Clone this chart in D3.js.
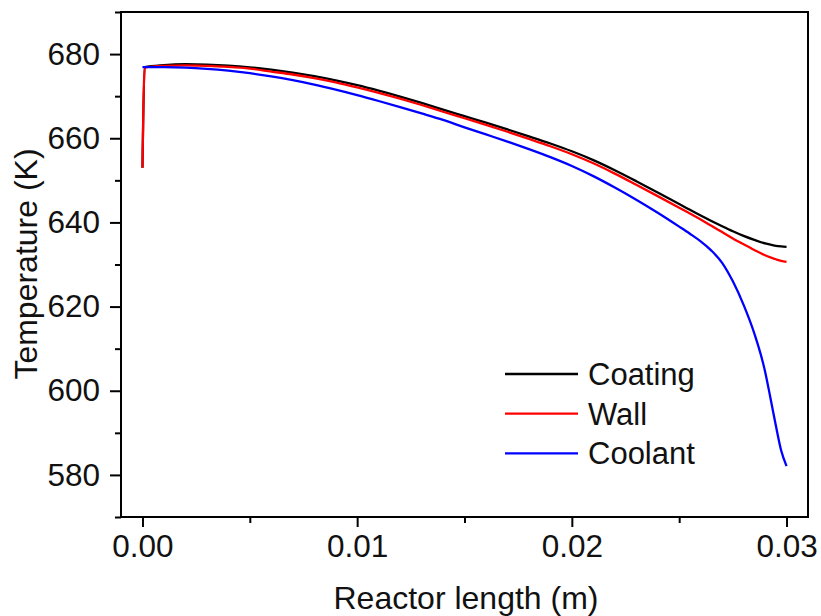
<!DOCTYPE html>
<html>
<head>
<meta charset="utf-8">
<script src="https://cdn.jsdelivr.net/npm/d3@7/dist/d3.min.js"></script>
<style>
  html, body { margin: 0; padding: 0; background: #fff; }
  svg { display: block; font-family: "Liberation Sans", Arial, sans-serif; }
</style>
</head>
<body>
<svg id="chart" width="821" height="616"></svg>
<script>
// Positions along the reactor (m)
const lengths = [0, 0.0001, 0.001, 0.002, 0.003, 0.004, 0.005, 0.006, 0.007, 0.008, 0.009,
  0.010, 0.011, 0.012, 0.013, 0.014, 0.015, 0.016, 0.017, 0.018, 0.019,
  0.020, 0.021, 0.022, 0.023, 0.024, 0.025, 0.0255, 0.026, 0.0265, 0.027, 0.0275,
  0.028, 0.0285, 0.029, 0.02925, 0.0295, 0.02975, 0.030];

// Temperatures (K) for each layer
const coating = [653.0, 676.9, 677.4, 677.6, 677.5, 677.25, 676.85, 676.3, 675.6, 674.75, 673.75,
  672.6, 671.3, 669.9, 668.4, 666.8, 665.25, 663.7, 662.1, 660.45, 658.75,
  656.9, 654.8, 652.4, 649.8, 647.1, 644.35, 643.0, 641.65, 640.35, 639.1, 637.9,
  636.8, 635.85, 635.0, 634.7, 634.45, 634.3, 634.2];

const wall = [653.0, 676.8, 677.2, 677.3, 677.2, 676.95, 676.55, 675.85, 675.15, 674.3, 673.3,
  672.1, 670.8, 669.4, 667.9, 666.3, 664.75, 663.2, 661.55, 659.85, 658.1,
  656.2, 654.05, 651.6, 648.95, 646.25, 643.5, 642.1, 640.7, 639.2, 637.7, 636.2,
  634.8, 633.45, 632.2, 631.7, 631.25, 630.85, 630.6];

const coolant = [676.9, 676.9, 676.9, 676.8, 676.5, 676.05, 675.45, 674.7, 673.8, 672.75, 671.55,
  670.25, 668.85, 667.4, 665.9, 664.35, 662.6, 660.9, 659.2, 657.4, 655.5,
  653.4, 651.0, 648.3, 645.4, 642.3, 639.0, 637.3, 635.5, 633.3, 630.4, 626.0,
  620.4, 613.6, 604.6, 598.3, 591.8, 585.8, 582.1];

const seriesNames = ["Coating", "Wall", "Coolant"];
const seriesColors = ["#000000", "#ff0000", "#0000ff"];

const xTicks = [0, 0.01, 0.02, 0.03];
const xMinorTicks = [0.005, 0.015, 0.025];
const yTicks = [580, 600, 620, 640, 660, 680];
const yMinorTicks = [570, 590, 610, 630, 650, 670, 690];

const W = 821, H = 616;
const margin = { top: 12, right: 13, bottom: 99, left: 121 };
const svg = d3.select("#chart");

const x = d3.scaleLinear().domain([-0.001, 0.031]).range([margin.left, W - margin.right]);
const y = d3.scaleLinear().domain([570, 690]).range([H - margin.bottom, margin.top]);

const series = [coating, wall, coolant].map((vals, i) => ({
  name: seriesNames[i],
  color: seriesColors[i],
  points: lengths.map((l, j) => [l, vals[j]])
}));

// Data lines (clipped to the plot frame)
svg.append("clipPath").attr("id", "plotClip")
  .append("rect")
  .attr("x", margin.left).attr("y", margin.top)
  .attr("width", W - margin.left - margin.right)
  .attr("height", H - margin.top - margin.bottom);

const line = d3.line()
  .x(d => x(d[0]))
  .y(d => y(d[1]))
  .curve(d3.curveMonotoneX);

svg.append("g").attr("clip-path", "url(#plotClip)")
  .selectAll("path")
  .data(series)
  .join("path")
  .attr("d", d => line(d.points))
  .attr("fill", "none")
  .attr("stroke", d => d.color)
  .attr("stroke-width", 2.3)
  .attr("stroke-linejoin", "round");

// Axes
const fmtX = d3.format(".2f");
const xAxis = svg.append("g")
  .attr("transform", `translate(0,${H - margin.bottom})`)
  .call(d3.axisBottom(x).tickValues(xTicks).tickFormat(fmtX).tickSize(10).tickPadding(8));
const xMinor = svg.append("g")
  .attr("transform", `translate(0,${H - margin.bottom})`)
  .call(d3.axisBottom(x).tickValues(xMinorTicks).tickFormat("").tickSize(6));

const yAxis = svg.append("g")
  .attr("transform", `translate(${margin.left},0)`)
  .call(d3.axisLeft(y).tickValues(yTicks).tickSize(11).tickPadding(10));
const yMinor = svg.append("g")
  .attr("transform", `translate(${margin.left},0)`)
  .call(d3.axisLeft(y).tickValues(yMinorTicks).tickFormat("").tickSize(6));

[xAxis, xMinor, yAxis, yMinor].forEach(g => {
  g.select(".domain").remove();
  g.selectAll(".tick line").attr("stroke", "#000").attr("stroke-width", 2);
  g.selectAll(".tick text")
    .attr("fill", "#111")
    .style("font-size", "31.5px")
    .style("font-family", "'Liberation Sans', Arial, sans-serif");
});

// Plot frame
svg.append("rect")
  .attr("x", margin.left).attr("y", margin.top)
  .attr("width", W - margin.left - margin.right)
  .attr("height", H - margin.top - margin.bottom)
  .attr("fill", "none")
  .attr("stroke", "#000")
  .attr("stroke-width", 2);

// Axis titles
svg.append("text")
  .attr("x", 466)
  .attr("y", 609)
  .attr("text-anchor", "middle")
  .attr("fill", "#111")
  .style("font-size", "32px")
  .text("Reactor length (m)");

svg.append("text")
  .attr("transform", `translate(37,264) rotate(-90)`)
  .attr("text-anchor", "middle")
  .attr("fill", "#111")
  .style("font-size", "32px")
  .text("Temperature (K)");

// Legend
const legend = svg.append("g").attr("transform", "translate(505,374)");
const rows = legend.selectAll("g")
  .data(series)
  .join("g")
  .attr("transform", (d, i) => `translate(0,${i * 39.7})`);
rows.append("line")
  .attr("x1", 0).attr("x2", 73)
  .attr("y1", 0).attr("y2", 0)
  .attr("stroke", d => d.color)
  .attr("stroke-width", 2.3);
rows.append("text")
  .attr("x", 83)
  .attr("dy", "0.35em")
  .attr("fill", "#111")
  .style("font-size", "31px")
  .text(d => d.name);
</script>
</body>
</html>
